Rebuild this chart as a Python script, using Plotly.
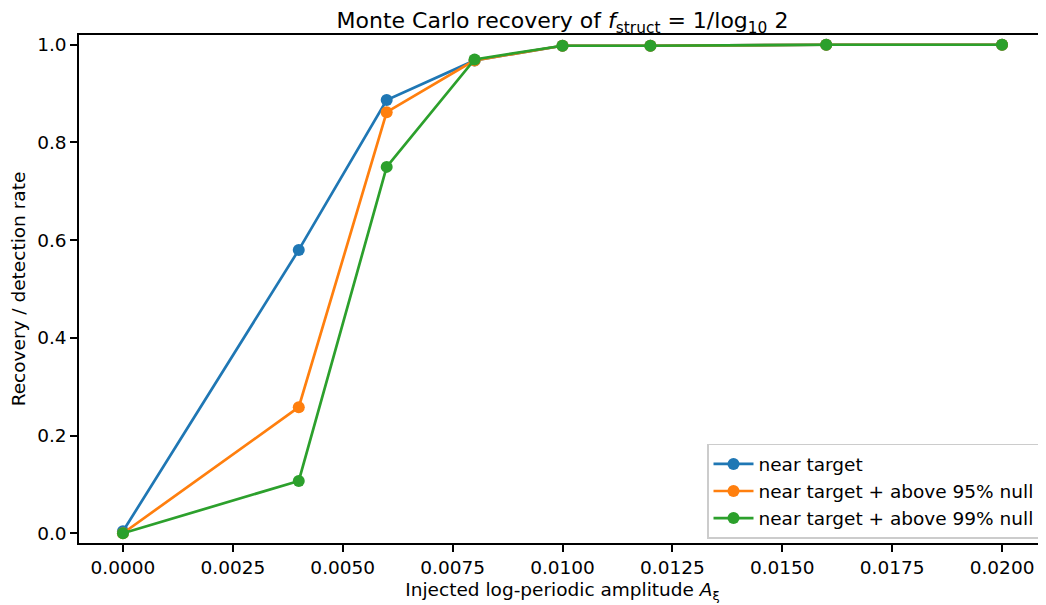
import plotly.graph_objects as go

amplitudes = [0.0, 0.004, 0.006, 0.008, 0.010, 0.012, 0.016, 0.020]
near_target = [0.004, 0.580, 0.887, 0.968, 0.998, 0.998, 1.000, 1.000]
near_95 = [0.000, 0.258, 0.862, 0.968, 0.998, 0.998, 1.000, 1.000]
near_99 = [0.000, 0.107, 0.750, 0.970, 0.998, 0.998, 1.000, 1.000]

x_tick_vals = [0.0, 0.0025, 0.005, 0.0075, 0.01, 0.0125, 0.015, 0.0175, 0.02]
x_tick_text = ["0.0000", "0.0025", "0.0050", "0.0075", "0.0100", "0.0125", "0.0150", "0.0175", "0.0200"]
y_tick_vals = [0.0, 0.2, 0.4, 0.6, 0.8, 1.0]
y_tick_text = ["0.0", "0.2", "0.4", "0.6", "0.8", "1.0"]

series = [
    ("near target", near_target, "#1f77b4"),
    ("near target + above 95% null", near_95, "#ff7f0e"),
    ("near target + above 99% null", near_99, "#2ca02c"),
]

fig = go.Figure()
for i, (name, vals, color) in enumerate(series):
    fig.add_trace(go.Scatter(
        x=amplitudes, y=vals, mode="lines+markers", name=name,
        legendgroup=f"g{i}",
        line=dict(color=color, width=2.7),
        marker=dict(color=color, size=12),
    ))

font = "DejaVu Sans"
# the page body adds an 8px offset, so the figure is 8px smaller than the window
fig.update_layout(
    width=1038, height=597,
    margin=dict(l=71, r=0, t=27, b=62),
    plot_bgcolor="white", paper_bgcolor="white",
    font=dict(family=font, size=18.5, color="black"),
    title=dict(
        text="Monte Carlo recovery of <i>f</i><sub>struct</sub> = 1/log<sub>10</sub> 2",
        x=0.5, xref="paper", xanchor="center", y=0.979, yanchor="middle",
        font=dict(size=22, family=font, color="black"),
    ),
    showlegend=True,
    legend=dict(
        x=0.9938, y=0.008, xanchor="right", yanchor="bottom",
        bgcolor="rgba(255,255,255,0.8)", bordercolor="#cccccc", borderwidth=1.5,
        font=dict(size=18.5, family=font, color="black"),
        traceorder="grouped", tracegroupgap=0, itemwidth=40,
    ),
)
fig.update_xaxes(
    range=[-0.001, 0.021], automargin=False,
    tickmode="array", tickvals=x_tick_vals, ticktext=x_tick_text,
    showgrid=False, zeroline=False,
    showline=True, linecolor="black", linewidth=1.5, mirror=True,
    ticks="outside", ticklen=7, tickwidth=1.5, tickcolor="black",
    tickfont=dict(size=18.5),
    title=dict(text="Injected log-periodic amplitude <i>A</i><sub>ξ</sub>", font=dict(size=18.5), standoff=6),
)
fig.update_yaxes(
    range=[-0.02, 1.02], automargin=False,
    tickmode="array", tickvals=y_tick_vals, ticktext=y_tick_text,
    showgrid=False, zeroline=False,
    showline=True, linecolor="black", linewidth=1.5, mirror=True,
    ticks="outside", ticklen=7, tickwidth=1.5, tickcolor="black",
    tickfont=dict(size=18.5),
    title=dict(text="Recovery / detection rate", font=dict(size=18.5), standoff=10),
)

fig.write_html("out.html")
